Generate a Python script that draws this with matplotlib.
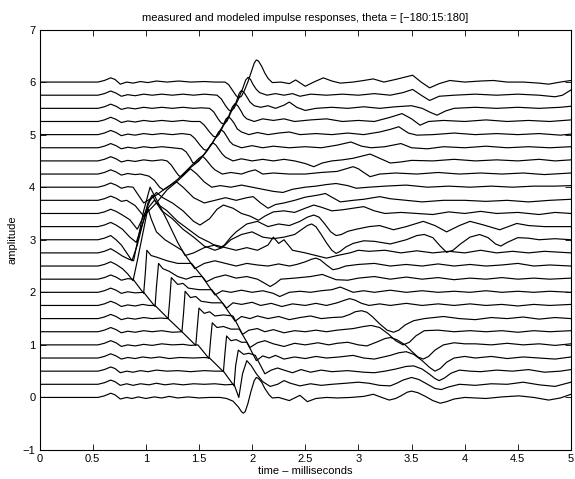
import matplotlib
matplotlib.use("Agg")
import matplotlib.pyplot as plt

plt.rcParams['font.family'] = ['Liberation Sans', 'DejaVu Sans']

# angles of the 25 responses (degrees), bottom to top
theta = list(range(-180, 181, 15))
spacing = 0.25

# (time ms, amplitude relative to own baseline)
trace_m180 = [(0,0),(0.55,0),(0.61,0.03),(0.67,0.08),(0.71,0.05),(0.76,-0.03),(0.82,0.0),(0.87,-0.02),(0.93,0.01),(1.0,-0.02),(1.08,0.01),(1.15,-0.01),(1.22,0.02),(1.30,-0.01),(1.40,0.01),(1.5,-0.01),(1.6,0.0),(1.7,0.0),(1.76,-0.02),(1.82,-0.07),(1.87,-0.18),(1.9,-0.27),(1.917,-0.30),(1.935,-0.27),(1.96,-0.12),(1.99,0.12),(2.02,0.32),(2.04,0.38),(2.06,0.36),(2.09,0.29),(2.12,0.17),(2.16,0.05),(2.19,-0.01),(2.25,0.0),(2.35,-0.06),(2.45,0.04),(2.52,-0.08),(2.6,-0.02),(2.7,0.0),(2.8,-0.01),(2.93,0.0),(3.05,0.02),(3.14,0.06),(3.22,0.0),(3.29,-0.05),(3.35,-0.02),(3.4,0.03),(3.46,0.1),(3.5,0.12),(3.56,0.09),(3.63,0.02),(3.7,-0.06),(3.77,-0.11),(3.83,-0.08),(3.9,-0.03),(4.0,0.0),(4.1,-0.01),(4.2,-0.02),(4.35,0.01),(4.51,0.03),(4.65,0.0),(4.79,-0.05),(4.9,-0.01),(5.0,0.06)]
trace_m165 = [(0,0),(0.55,0),(0.61,0.03),(0.67,0.08),(0.71,0.05),(0.76,-0.02),(0.82,0.01),(0.88,-0.02),(0.95,0.01),(1.03,-0.01),(1.1,0.02),(1.18,-0.01),(1.26,0.01),(1.35,-0.01),(1.45,0.01),(1.55,0.0),(1.65,0.01),(1.75,-0.01),(1.83,0.0),(1.875,-0.25),(1.91,0.2),(1.95,0.45),(1.99,0.36),(2.04,0.2),(2.1,0.05),(2.17,-0.04),(2.24,0.0),(2.3,0.07),(2.36,0.02),(2.45,-0.03),(2.55,0.01),(2.65,-0.02),(2.75,0.0),(2.88,0.02),(3.0,0.04),(3.1,0.02),(3.2,-0.02),(3.3,-0.03),(3.36,0.02),(3.42,0.08),(3.5,0.13),(3.57,0.09),(3.65,0.0),(3.72,-0.08),(3.78,-0.1),(3.85,-0.05),(3.95,0.0),(4.1,-0.02),(4.25,0.01),(4.4,0.0),(4.55,0.04),(4.7,-0.01),(4.85,-0.04),(5.0,0.04)]
trace_m150 = [(0,0),(0.55,0),(0.61,0.03),(0.67,0.08),(0.71,0.05),(0.76,-0.03),(0.82,0.0),(0.88,-0.02),(0.95,0.01),(1.02,-0.01),(1.1,0.02),(1.2,0.0),(1.3,0.01),(1.42,-0.01),(1.55,0.01),(1.65,0.0),(1.73,0.0),(1.83,-0.28),(1.845,0.1),(1.87,0.40),(1.92,0.32),(1.97,0.34),(2.03,0.3),(2.12,-0.05),(2.18,0.02),(2.24,0.06),(2.3,0.02),(2.38,-0.03),(2.46,0.03),(2.55,-0.02),(2.65,0.02),(2.75,-0.01),(2.9,0.01),(3.05,-0.02),(3.15,-0.03),(3.25,0.0),(3.35,0.04),(3.45,0.09),(3.52,0.1),(3.6,0.04),(3.67,-0.06),(3.72,-0.14),(3.76,-0.18),(3.81,-0.13),(3.87,-0.04),(3.95,0.02),(4.05,0.0),(4.15,-0.01),(4.3,0.02),(4.45,0.0),(4.6,0.03),(4.75,-0.02),(4.9,0.0),(5.0,0.03)]
trace_m135 = [(0,0),(0.55,0),(0.61,0.03),(0.67,0.08),(0.72,0.04),(0.77,-0.02),(0.83,0.01),(0.9,-0.01),(0.97,0.02),(1.05,0.0),(1.13,0.02),(1.22,-0.01),(1.32,0.01),(1.45,0.0),(1.55,0.01),(1.6,0.0),(1.73,-0.26),(1.745,0.1),(1.76,0.42),(1.8,0.33),(1.85,0.35),(1.9,0.3),(1.95,0.3),(2.04,-0.05),(2.1,0.04),(2.16,0.0),(2.22,0.05),(2.3,-0.02),(2.4,0.02),(2.5,-0.01),(2.6,0.03),(2.7,0.0),(2.82,0.02),(2.95,0.05),(3.05,0.0),(3.15,-0.02),(3.3,0.05),(3.38,0.1),(3.45,0.12),(3.52,0.07),(3.6,-0.05),(3.67,-0.18),(3.72,-0.25),(3.77,-0.2),(3.83,-0.08),(3.9,0.0),(4.0,0.03),(4.1,0.0),(4.25,0.03),(4.4,-0.01),(4.55,0.02),(4.7,0.0),(4.85,-0.02),(5.0,0.02)]
trace_m120 = [(0,0),(0.55,0),(0.61,0.03),(0.67,0.08),(0.72,0.04),(0.77,-0.03),(0.83,0.0),(0.9,-0.02),(0.98,0.01),(1.06,-0.01),(1.15,0.02),(1.25,0.0),(1.35,0.01),(1.42,-0.01),(1.49,0.0),(1.595,-0.26),(1.61,0.1),(1.625,0.42),(1.67,0.33),(1.73,0.35),(1.8,0.3),(1.88,0.3),(1.98,-0.05),(2.05,0.04),(2.12,0.08),(2.2,0.02),(2.3,-0.03),(2.4,0.03),(2.5,0.0),(2.62,0.04),(2.72,0.0),(2.8,0.03),(2.9,0.05),(3.0,0.0),(3.08,-0.02),(3.18,0.06),(3.25,0.12),(3.3,0.14),(3.36,0.1),(3.44,0.0),(3.5,-0.12),(3.56,-0.23),(3.61,-0.27),(3.66,-0.22),(3.72,-0.1),(3.8,0.0),(3.9,0.04),(4.0,0.02),(4.1,0.02),(4.25,0.0),(4.4,0.03),(4.55,0.0),(4.7,0.02),(4.85,-0.01),(5.0,0.02)]
trace_m105 = [(0,0),(0.55,0),(0.61,0.03),(0.67,0.08),(0.72,0.04),(0.77,-0.02),(0.83,0.01),(0.9,-0.01),(0.98,0.02),(1.06,0.0),(1.15,0.02),(1.25,-0.01),(1.34,0.0),(1.47,-0.26),(1.485,0.1),(1.50,0.45),(1.55,0.35),(1.6,0.38),(1.65,0.3),(1.73,0.32),(1.82,0.3),(1.91,-0.05),(1.97,0.03),(2.05,0.06),(2.12,0.0),(2.2,0.04),(2.3,-0.02),(2.4,0.02),(2.5,0.0),(2.6,0.03),(2.7,0.0),(2.8,0.03),(2.95,0.06),(3.05,0.1),(3.12,0.12),(3.2,0.08),(3.28,-0.04),(3.35,-0.17),(3.42,-0.25),(3.48,-0.2),(3.54,-0.08),(3.62,0.02),(3.75,0.03),(3.9,0.0),(4.05,0.02),(4.2,0.0),(4.35,0.02),(4.5,-0.01),(4.65,0.02),(4.8,0.0),(5.0,0.02)]
trace_m90 = [(0,0),(0.55,0),(0.61,0.03),(0.67,0.08),(0.72,0.04),(0.77,-0.02),(0.83,0.01),(0.9,-0.01),(0.98,0.02),(1.06,0.0),(1.14,0.01),(1.21,0.0),(1.34,-0.25),(1.355,0.1),(1.37,0.52),(1.42,0.4),(1.47,0.42),(1.52,0.33),(1.62,0.3),(1.72,0.3),(1.84,-0.05),(1.9,0.04),(1.98,0.0),(2.05,0.05),(2.15,0.0),(2.25,0.04),(2.35,-0.02),(2.45,0.02),(2.55,0.05),(2.65,0.0),(2.75,0.02),(2.85,0.03),(2.92,0.08),(2.97,0.13),(3.03,0.15),(3.08,0.12),(3.13,0.04),(3.2,-0.1),(3.27,-0.22),(3.33,-0.26),(3.38,-0.22),(3.44,-0.12),(3.52,-0.04),(3.62,0.0),(3.8,0.04),(3.95,0.0),(4.1,-0.02),(4.25,0.02),(4.4,0.0),(4.55,0.03),(4.7,-0.01),(4.85,0.02),(5.0,0.0)]
trace_m75 = [(0,0),(0.55,0),(0.61,0.03),(0.67,0.08),(0.72,0.04),(0.77,-0.02),(0.83,0.01),(0.9,-0.01),(0.97,0.02),(1.03,0.0),(1.087,0.0),(1.21,-0.25),(1.225,0.1),(1.24,0.53),(1.3,0.4),(1.35,0.42),(1.4,0.33),(1.5,0.3),(1.62,0.3),(1.76,-0.05),(1.82,0.05),(1.9,0.02),(2.0,0.06),(2.08,0.0),(2.18,0.04),(2.28,-0.02),(2.38,0.03),(2.5,0.0),(2.6,0.04),(2.7,0.0),(2.8,0.05),(2.87,0.1),(2.92,0.13),(2.97,0.1),(3.03,0.04),(3.1,0.0),(3.2,0.03),(3.3,0.0),(3.45,0.04),(3.6,0.0),(3.75,0.03),(3.9,0.0),(4.05,0.03),(4.2,0.0),(4.35,0.02),(4.5,-0.01),(4.65,0.02),(4.8,0.0),(5.0,0.02)]
trace_m60 = [(0,0),(0.55,0),(0.61,0.03),(0.67,0.08),(0.72,0.04),(0.77,-0.02),(0.83,0.01),(0.9,-0.01),(0.98,0.0),(1.087,-0.27),(1.10,0.1),(1.12,0.55),(1.16,0.45),(1.22,0.4),(1.3,0.3),(1.38,0.25),(1.45,0.3),(1.53,0.3),(1.65,-0.05),(1.72,0.03),(1.8,0.0),(1.9,0.04),(2.0,0.0),(2.1,0.03),(2.2,-0.02),(2.26,-0.08),(2.35,0.0),(2.45,0.02),(2.55,0.0),(2.65,0.03),(2.75,0.05),(2.83,0.1),(2.95,0.0),(3.05,0.03),(3.15,0.0),(3.3,0.04),(3.45,0.0),(3.6,0.03),(3.75,0.0),(3.9,0.02),(4.05,0.0),(4.2,0.03),(4.35,0.0),(4.5,0.02),(4.65,0.0),(4.8,0.02),(5.0,0.0)]
trace_m45 = [(0,0),(0.55,0),(0.61,0.03),(0.67,0.08),(0.72,0.04),(0.77,-0.02),(0.83,0.01),(0.88,0.0),(0.98,-0.27),(0.995,0.1),(1.01,0.55),(1.05,0.45),(1.1,0.42),(1.2,0.35),(1.3,0.3),(1.43,0.3),(1.57,-0.05),(1.65,0.03),(1.75,0.08),(1.85,0.02),(1.95,0.05),(2.05,0.0),(2.12,-0.08),(2.17,-0.14),(2.22,-0.08),(2.27,0.0),(2.4,0.02),(2.55,0.05),(2.66,0.09),(2.79,-0.01),(2.9,-0.02),(3.0,0.02),(3.15,0.05),(3.3,0.0),(3.45,0.04),(3.6,0.0),(3.75,0.03),(3.9,-0.01),(4.05,0.02),(4.2,0.0),(4.35,0.03),(4.5,0.0),(4.65,0.02),(4.8,0.0),(5.0,0.02)]
trace_m30 = [(0,0),(0.55,0),(0.61,0.03),(0.67,0.08),(0.72,0.03),(0.78,-0.05),(0.83,-0.15),(0.88,-0.28),(0.92,0.1),(0.97,0.6),(1.02,1.1),(1.05,0.9),(1.1,0.65),(1.18,0.5),(1.26,0.4),(1.34,0.3),(1.46,-0.05),(1.55,0.05),(1.65,0.1),(1.75,0.05),(1.85,0.0),(1.95,0.05),(2.05,0.02),(2.15,0.0),(2.25,0.04),(2.35,0.0),(2.42,0.03),(2.5,0.08),(2.56,0.13),(2.6,0.15),(2.64,0.12),(2.7,0.02),(2.76,-0.07),(2.81,-0.05),(2.88,0.0),(3.0,0.03),(3.15,0.05),(3.3,0.0),(3.45,0.03),(3.6,0.0),(3.75,0.04),(3.9,0.0),(4.05,0.03),(4.2,0.0),(4.35,0.02),(4.5,0.05),(4.65,0.0),(4.8,0.02),(5.0,0.0)]
trace_m15 = [(0,0),(0.55,0),(0.61,0.03),(0.67,0.08),(0.72,0.02),(0.78,-0.06),(0.84,-0.12),(0.885,-0.15),(0.93,0.3),(0.98,0.8),(1.04,1.25),(1.12,0.94),(1.2,0.62),(1.3,0.2),(1.37,-0.05),(1.45,0.0),(1.55,0.1),(1.65,0.15),(1.75,0.1),(1.85,0.05),(1.95,0.1),(2.05,0.05),(2.15,0.15),(2.2,0.3),(2.25,0.18),(2.3,0.25),(2.38,0.05),(2.5,0.0),(2.6,-0.05),(2.7,-0.1),(2.8,-0.05),(2.92,0.0),(3.0,0.05),(3.1,0.03),(3.25,0.05),(3.4,0.0),(3.55,0.04),(3.7,0.0),(3.85,0.03),(4.0,0.0),(4.15,0.05),(4.3,0.0),(4.45,0.03),(4.6,0.0),(4.75,0.03),(5.0,0.0)]
trace_0 = [(0,0),(0.55,0),(0.61,0.03),(0.67,0.08),(0.72,0.0),(0.77,-0.1),(0.82,-0.25),(0.87,-0.4),(0.92,-0.1),(0.97,0.3),(1.02,0.7),(1.06,0.85),(1.1,0.7),(1.15,0.55),(1.25,0.4),(1.35,0.2),(1.45,0.05),(1.55,-0.12),(1.65,-0.2),(1.72,-0.15),(1.8,0.0),(1.9,0.1),(2.0,0.15),(2.1,0.05),(2.2,0.02),(2.3,0.05),(2.4,0.1),(2.47,0.2),(2.52,0.27),(2.56,0.3),(2.6,0.25),(2.65,0.1),(2.7,-0.06),(2.75,-0.2),(2.79,-0.26),(2.83,-0.22),(2.88,-0.14),(2.95,-0.07),(3.05,-0.02),(3.15,-0.03),(3.3,-0.08),(3.45,0.0),(3.55,0.08),(3.62,0.1),(3.7,0.04),(3.77,-0.12),(3.83,-0.24),(3.89,-0.2),(3.96,-0.08),(4.05,0.05),(4.14,0.1),(4.22,0.04),(4.29,-0.08),(4.34,-0.12),(4.4,-0.05),(4.5,0.04),(4.6,0.03),(4.7,0.0),(4.85,0.02),(5.0,0.0)]
trace_p15 = [(0,0),(0.55,0),(0.61,0.03),(0.67,0.08),(0.72,0.03),(0.78,-0.05),(0.85,-0.2),(0.91,-0.3),(0.96,0.0),(1.02,0.35),(1.08,0.5),(1.13,0.4),(1.2,0.3),(1.3,0.1),(1.4,-0.05),(1.5,-0.2),(1.6,-0.3),(1.66,-0.37),(1.7,-0.4),(1.74,-0.35),(1.8,-0.2),(1.85,-0.1),(1.95,0.05),(2.05,0.1),(2.15,0.0),(2.25,0.05),(2.35,0.02),(2.45,0.1),(2.52,0.18),(2.58,0.22),(2.63,0.18),(2.68,0.06),(2.74,-0.1),(2.79,-0.17),(2.84,-0.15),(2.9,-0.09),(2.98,-0.05),(3.1,0.0),(3.2,0.02),(3.33,-0.06),(3.45,0.0),(3.61,0.1),(3.72,0.02),(3.83,-0.1),(3.95,0.02),(4.05,0.1),(4.18,0.03),(4.33,-0.06),(4.49,0.06),(4.6,0.02),(4.75,0.0),(5.0,0.0)]
trace_p30 = [(0,0),(0.55,0),(0.61,0.03),(0.67,0.08),(0.72,0.04),(0.78,-0.03),(0.85,-0.12),(0.92,-0.3),(0.98,-0.05),(1.04,0.25),(1.1,0.4),(1.16,0.3),(1.25,0.2),(1.35,0.05),(1.45,-0.15),(1.51,-0.22),(1.6,-0.1),(1.67,0.08),(1.73,0.16),(1.82,0.1),(1.9,0.0),(1.98,-0.05),(2.06,-0.13),(2.12,-0.05),(2.2,0.03),(2.3,0.05),(2.4,0.02),(2.5,0.1),(2.58,0.16),(2.65,0.12),(2.75,0.05),(2.85,0.07),(2.95,0.1),(3.05,0.13),(3.15,0.05),(3.25,0.0),(3.4,0.02),(3.55,0.0),(3.7,-0.02),(3.85,0.03),(4.0,0.0),(4.15,0.04),(4.3,0.0),(4.5,0.02),(4.7,-0.02),(4.85,0.02),(5.0,0.0)]
trace_p45 = [(0,0),(0.55,0),(0.61,0.03),(0.67,0.08),(0.72,0.04),(0.77,-0.02),(0.82,0.0),(0.9,-0.1),(0.98,-0.3),(1.1,-0.05),(1.2,0.2),(1.29,0.35),(1.35,0.25),(1.45,0.05),(1.55,-0.05),(1.65,0.0),(1.75,0.05),(1.85,0.0),(1.95,0.05),(2.01,0.07),(2.08,-0.05),(2.15,-0.15),(2.22,-0.08),(2.3,-0.05),(2.4,0.0),(2.5,0.06),(2.62,0.1),(2.69,0.13),(2.75,0.06),(2.83,-0.03),(2.95,0.0),(3.05,0.02),(3.2,0.07),(3.3,0.03),(3.45,0.0),(3.6,-0.03),(3.8,0.0),(4.0,0.0),(4.2,-0.02),(4.4,0.0),(4.6,-0.03),(4.8,0.0),(5.0,0.02)]
trace_p60 = [(0,0),(0.55,0),(0.61,0.03),(0.67,0.08),(0.72,0.04),(0.77,-0.02),(0.83,0.01),(0.88,0.0),(0.98,-0.3),(1.1,-0.15),(1.2,0.0),(1.3,0.12),(1.42,0.35),(1.48,0.25),(1.55,0.1),(1.62,0.0),(1.7,0.03),(1.8,0.0),(1.9,0.04),(2.0,0.0),(2.1,-0.04),(2.2,-0.08),(2.29,-0.1),(2.38,-0.04),(2.5,0.0),(2.6,0.02),(2.7,0.05),(2.79,0.07),(2.9,0.03),(2.98,-0.02),(3.1,0.0),(3.25,0.02),(3.45,0.04),(3.65,0.0),(3.85,0.02),(4.05,0.0),(4.25,0.02),(4.45,0.0),(4.65,0.02),(4.85,0.02),(5.0,0.03)]
trace_p75 = [(0,0),(0.55,0),(0.61,0.03),(0.67,0.08),(0.72,0.04),(0.77,-0.02),(0.83,0.01),(0.9,-0.01),(0.95,0.0),(1.03,-0.04),(1.08,-0.12),(1.13,-0.25),(1.165,-0.3),(1.2,-0.26),(1.3,-0.1),(1.4,0.1),(1.5,0.3),(1.53,0.34),(1.555,0.3),(1.58,0.24),(1.62,0.14),(1.65,0.08),(1.72,0.0),(1.8,0.03),(1.9,0.0),(1.97,0.05),(2.03,0.08),(2.1,0.0),(2.2,0.02),(2.35,0.0),(2.5,0.0),(2.65,0.03),(2.8,0.05),(2.9,0.11),(2.95,0.14),(3.0,0.1),(3.05,0.03),(3.11,-0.05),(3.2,0.0),(3.35,0.02),(3.55,0.0),(3.75,0.03),(3.95,0.0),(4.15,0.02),(4.35,0.0),(4.55,0.02),(4.75,-0.01),(5.0,0.02)]
trace_p90 = [(0,0),(0.55,0),(0.61,0.03),(0.67,0.08),(0.72,0.04),(0.77,-0.02),(0.83,0.01),(0.9,-0.01),(0.98,0.02),(1.06,0.0),(1.15,0.02),(1.2,0.0),(1.24,-0.08),(1.28,-0.2),(1.31,-0.28),(1.33,-0.3),(1.36,-0.25),(1.4,-0.16),(1.5,0.0),(1.58,0.2),(1.61,0.31),(1.635,0.34),(1.66,0.3),(1.68,0.24),(1.72,0.13),(1.75,0.07),(1.82,0.0),(1.9,0.04),(2.0,0.0),(2.1,0.03),(2.2,0.0),(2.3,0.03),(2.4,0.0),(2.5,-0.05),(2.58,-0.11),(2.66,-0.04),(2.75,0.0),(2.85,0.02),(2.95,0.05),(3.05,0.1),(3.11,0.13),(3.2,0.05),(3.3,-0.04),(3.4,-0.02),(3.5,0.01),(3.7,0.0),(3.9,0.03),(4.1,0.0),(4.3,0.02),(4.5,0.0),(4.7,0.03),(4.85,0.0),(5.0,0.02)]
trace_p105 = [(0,0),(0.55,0),(0.61,0.03),(0.67,0.08),(0.72,0.04),(0.77,-0.02),(0.83,0.01),(0.9,-0.01),(0.98,0.02),(1.06,0.0),(1.15,0.02),(1.25,0.0),(1.34,-0.02),(1.38,-0.08),(1.42,-0.2),(1.44,-0.28),(1.46,-0.3),(1.49,-0.25),(1.55,-0.12),(1.63,0.1),(1.685,0.3),(1.71,0.34),(1.735,0.3),(1.76,0.22),(1.79,0.12),(1.82,0.06),(1.9,0.0),(2.0,0.04),(2.1,0.0),(2.2,0.03),(2.35,0.0),(2.5,0.02),(2.65,0.0),(2.8,0.05),(2.93,0.11),(3.03,0.03),(3.12,0.0),(3.25,0.02),(3.4,0.08),(3.5,0.0),(3.65,-0.02),(3.8,0.02),(4.0,0.0),(4.2,0.03),(4.4,0.0),(4.6,0.02),(4.8,0.0),(5.0,0.02)]
trace_p120 = [(0,0),(0.55,0),(0.61,0.03),(0.67,0.08),(0.72,0.04),(0.77,-0.02),(0.83,0.01),(0.9,-0.01),(0.98,0.02),(1.06,0.0),(1.15,0.02),(1.25,0.0),(1.34,0.02),(1.42,0.0),(1.46,-0.07),(1.51,-0.2),(1.545,-0.28),(1.57,-0.3),(1.6,-0.24),(1.65,-0.08),(1.72,0.15),(1.755,0.3),(1.778,0.34),(1.8,0.3),(1.83,0.22),(1.86,0.11),(1.9,0.05),(1.97,0.0),(2.05,0.04),(2.15,0.0),(2.25,0.03),(2.35,0.05),(2.45,0.0),(2.6,0.02),(2.75,0.0),(2.9,0.03),(3.05,0.0),(3.2,0.05),(3.3,0.1),(3.38,0.15),(3.47,0.03),(3.55,-0.01),(3.7,0.0),(3.9,0.03),(4.1,0.0),(4.3,0.02),(4.5,0.0),(4.7,0.02),(4.9,-0.01),(5.0,0.01)]
trace_p135 = [(0,0),(0.55,0),(0.61,0.03),(0.67,0.08),(0.72,0.04),(0.77,-0.02),(0.83,0.01),(0.9,-0.01),(0.98,0.02),(1.06,0.0),(1.15,0.02),(1.25,0.0),(1.35,0.02),(1.43,0.0),(1.51,0.0),(1.55,-0.07),(1.6,-0.2),(1.635,-0.28),(1.663,-0.3),(1.69,-0.24),(1.73,-0.08),(1.78,0.1),(1.815,0.28),(1.84,0.34),(1.865,0.3),(1.89,0.22),(1.92,0.11),(1.95,0.05),(2.02,0.0),(2.1,0.05),(2.2,0.02),(2.3,0.05),(2.4,0.0),(2.55,0.03),(2.7,0.05),(2.85,0.0),(3.0,0.02),(3.15,0.0),(3.3,0.08),(3.41,0.15),(3.5,0.05),(3.58,-0.07),(3.66,0.0),(3.8,0.02),(4.0,0.0),(4.2,0.03),(4.4,0.0),(4.6,0.02),(4.8,0.0),(5.0,0.03)]
trace_p150 = [(0,0),(0.55,0),(0.61,0.03),(0.67,0.08),(0.72,0.04),(0.77,-0.02),(0.83,0.01),(0.9,-0.01),(0.98,0.02),(1.06,0.0),(1.15,0.02),(1.25,0.0),(1.35,0.02),(1.45,0.0),(1.52,0.01),(1.60,0.0),(1.64,-0.07),(1.68,-0.2),(1.71,-0.28),(1.737,-0.3),(1.765,-0.24),(1.8,-0.08),(1.85,0.12),(1.88,0.29),(1.90,0.34),(1.925,0.3),(1.95,0.22),(1.98,0.12),(2.02,0.05),(2.08,0.02),(2.15,0.05),(2.22,0.0),(2.3,0.06),(2.35,0.12),(2.42,0.02),(2.5,-0.04),(2.6,0.0),(2.75,0.02),(2.9,0.0),(3.05,0.03),(3.2,0.0),(3.35,0.03),(3.5,0.05),(3.6,0.0),(3.68,-0.08),(3.74,-0.13),(3.82,-0.05),(3.9,0.0),(4.1,0.02),(4.3,0.0),(4.5,0.02),(4.7,0.0),(4.9,0.02),(5.0,0.04)]
trace_p165 = [(0,0),(0.55,0),(0.61,0.03),(0.67,0.08),(0.72,0.04),(0.77,-0.02),(0.83,0.01),(0.9,-0.01),(0.98,0.02),(1.06,0.0),(1.15,0.02),(1.25,0.0),(1.35,0.02),(1.45,0.0),(1.55,0.02),(1.67,0.0),(1.71,-0.07),(1.75,-0.2),(1.78,-0.28),(1.80,-0.3),(1.83,-0.25),(1.87,-0.08),(1.91,0.12),(1.94,0.29),(1.962,0.34),(1.985,0.3),(2.01,0.2),(2.04,0.11),(2.07,0.05),(2.14,0.0),(2.22,0.03),(2.3,0.0),(2.38,0.03),(2.45,-0.02),(2.55,0.02),(2.7,0.0),(2.85,0.02),(3.0,0.0),(3.15,0.03),(3.3,0.0),(3.42,0.05),(3.51,0.11),(3.59,0.0),(3.67,-0.1),(3.76,-0.02),(3.9,0.0),(4.1,0.02),(4.3,0.0),(4.5,0.02),(4.7,0.0),(4.85,-0.03),(4.92,0.0),(5.0,0.1)]
trace_p180 = [(0,0),(0.55,0),(0.61,0.03),(0.67,0.08),(0.71,0.05),(0.76,-0.04),(0.82,0.0),(0.88,-0.02),(0.95,0.01),(1.02,-0.01),(1.1,0.02),(1.2,0.0),(1.31,0.02),(1.42,0.0),(1.55,0.01),(1.65,0.0),(1.745,0.0),(1.78,-0.05),(1.82,-0.17),(1.85,-0.26),(1.875,-0.3),(1.9,-0.27),(1.93,-0.15),(1.96,0.0),(1.99,0.18),(2.02,0.36),(2.04,0.42),(2.06,0.4),(2.09,0.3),(2.12,0.17),(2.15,0.07),(2.19,-0.01),(2.27,0.0),(2.35,-0.03),(2.41,0.04),(2.5,-0.08),(2.58,0.0),(2.67,0.08),(2.75,0.02),(2.83,-0.02),(2.95,0.0),(3.05,0.03),(3.14,0.06),(3.24,0.0),(3.35,0.05),(3.51,0.13),(3.59,0.0),(3.67,-0.11),(3.76,-0.03),(3.86,0.03),(4.0,0.0),(4.15,0.02),(4.27,0.03),(4.4,0.0),(4.55,0.0),(4.7,-0.02),(4.79,-0.04),(4.9,0.0),(5.0,0.03)]

traces = [trace_m180, trace_m165, trace_m150, trace_m135, trace_m120, trace_m105,
          trace_m90, trace_m75, trace_m60, trace_m45, trace_m30, trace_m15, trace_0,
          trace_p15, trace_p30, trace_p45, trace_p60, trace_p75, trace_p90, trace_p105,
          trace_p120, trace_p135, trace_p150, trace_p165, trace_p180]

x_ticks = [0, 0.5, 1, 1.5, 2, 2.5, 3, 3.5, 4, 4.5, 5]
x_tick_labels = ['0', '0.5', '1', '1.5', '2', '2.5', '3', '3.5', '4', '4.5', '5']
y_ticks = [-1, 0, 1, 2, 3, 4, 5, 6, 7]
y_tick_labels = ['\u22121', '0', '1', '2', '3', '4', '5', '6', '7']

fig = plt.figure(figsize=(5.75, 4.79), dpi=100)
ax = fig.add_axes([39.5/575, 29/479, 531.5/575, 420.5/479])

for i, tr in enumerate(traces):
    ts = [p[0] for p in tr]
    ys = [p[1] + spacing * i for p in tr]
    ax.plot(ts, ys, color='black', linewidth=0.85, solid_joinstyle='round')

ax.set_xlim(0, 5)
ax.set_ylim(-1, 7)
ax.set_xticks(x_ticks)
ax.set_xticklabels(x_tick_labels)
ax.set_yticks(y_ticks)
ax.set_yticklabels(y_tick_labels)
ax.tick_params(direction='in', top=True, right=True, labelsize=8, length=4, width=0.6, pad=3)
for s in ax.spines.values():
    s.set_linewidth(0.8)
ax.set_xlabel('time \u2013 milliseconds', fontsize=8, labelpad=1)
ax.set_ylabel('amplitude', fontsize=8, labelpad=4)
ax.set_title('measured and modeled impulse responses, theta = [\u2212180:15:180]', fontsize=8, pad=6)

fig.savefig('out.png', dpi=100)
